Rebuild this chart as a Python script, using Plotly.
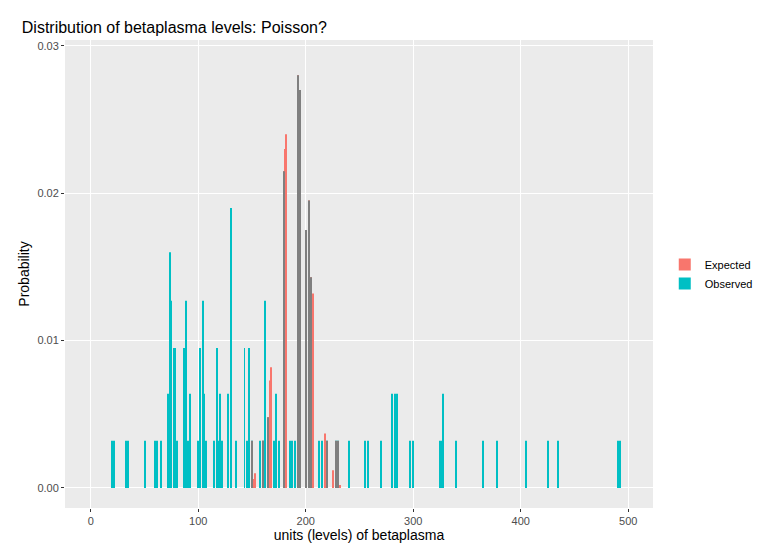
import plotly.graph_objects as go

# observed betaplasma levels (x) and relative frequency
obs_x = [20, 22, 33, 35, 50, 60, 62, 65, 72, 74, 75, 77, 78, 80, 87, 89, 90, 92, 100, 102, 104, 105, 107,
         115, 117, 118, 120, 122, 128, 130, 135, 143, 145, 147, 150, 157, 160, 162, 165, 170, 172, 175,
         180, 185, 187, 190, 193, 195, 200, 203, 205, 212, 215, 220, 228, 230, 240, 255, 258, 270, 280,
         283, 285, 297, 300, 325, 327, 328, 340, 365, 378, 405, 425, 435, 490, 492]
obs_y = [0.0032, 0.0032, 0.0032, 0.0032, 0.0032, 0.0032, 0.0032, 0.0032, 0.0064, 0.016, 0.0127, 0.0095, 0.0095,
         0.0032, 0.0095, 0.0127, 0.0032, 0.0064, 0.0032, 0.0095, 0.0127, 0.0064, 0.0032,
         0.0032, 0.0095, 0.0032, 0.0064, 0.0032, 0.0064, 0.019, 0.0032, 0.0095, 0.0032, 0.0095, 0.0032,
         0.0032, 0.0032, 0.0127, 0.0032, 0.0032, 0.0064, 0.0032, 0.0032, 0.0032, 0.0032, 0.0032, 0.0032,
         0.0032, 0.0032, 0.0032, 0.0032, 0.0032, 0.0032, 0.0032, 0.0032, 0.0032, 0.0032, 0.0032, 0.0032,
         0.0032, 0.0064, 0.0064, 0.0064, 0.0032, 0.0032, 0.0032, 0.0032, 0.0064, 0.0032, 0.0032, 0.0032,
         0.0032, 0.0032, 0.0032, 0.0032, 0.0032]

# expected Poisson probabilities (visible bars)
exp_x = [150, 152, 153, 160, 165, 167, 168, 180, 181, 182, 193, 195, 200, 203, 205, 207,
         218, 220, 225, 228, 230, 232]
exp_y = [0.0003, 0.0006, 0.001, 0.0032, 0.0048, 0.0073, 0.0082, 0.0215, 0.023, 0.024, 0.028, 0.027,
         0.0175, 0.0195, 0.0143, 0.0132, 0.0037, 0.003, 0.0012, 0.0006, 0.0004, 0.0002]

obs = dict(zip(obs_x, obs_y))
exp = dict(zip(exp_x, exp_y))
both_x = [x for x in exp_x if x in obs]
both_y = [max(obs[x], exp[x]) for x in both_x]

fig = go.Figure()
fig.add_bar(x=obs_x, y=obs_y, width=0.9, name="Observed", marker_color="#00BFC4", marker_line_width=0)
fig.add_bar(x=exp_x, y=exp_y, width=0.9, name="Expected", marker_color="#F8766D", marker_line_width=0)
fig.add_bar(x=both_x, y=both_y, width=0.9, marker_color="#7F7F7F", marker_line_width=0, showlegend=False)

fig.update_layout(
    barmode="overlay",
    width=766, height=545,
    margin=dict(l=57, r=121, t=32, b=45),
    paper_bgcolor="white", plot_bgcolor="#EBEBEB",
    font=dict(family="Liberation Sans, Arial", color="#4D4D4D", size=11),
    title=dict(text="Distribution of betaplasma levels: Poisson?", x=0.018, y=0.975,
               font=dict(size=16, color="black")),
    legend=dict(x=1.02, y=0.5, yanchor="middle", traceorder="reversed",
                font=dict(size=11, color="black"), bgcolor="rgba(0,0,0,0)"),
    xaxis=dict(range=[-24, 523], tickvals=[0, 100, 200, 300, 400, 500], gridcolor="white",
               showline=False, zeroline=False, ticks="outside", ticklen=3, tickcolor="#333",
               title=dict(text="units (levels) of betaplasma", standoff=2,
                          font=dict(size=14, color="black"))),
    yaxis=dict(range=[-0.00136, 0.0304], tickvals=[0, 0.01, 0.02, 0.03],
               ticktext=["0.00", "0.01", "0.02", "0.03"], gridcolor="white", zeroline=False,
               ticks="outside", ticklen=3, tickcolor="#333",
               title=dict(text="Probability", standoff=4, font=dict(size=14, color="black"))),
)

fig.write_html("out.html")
